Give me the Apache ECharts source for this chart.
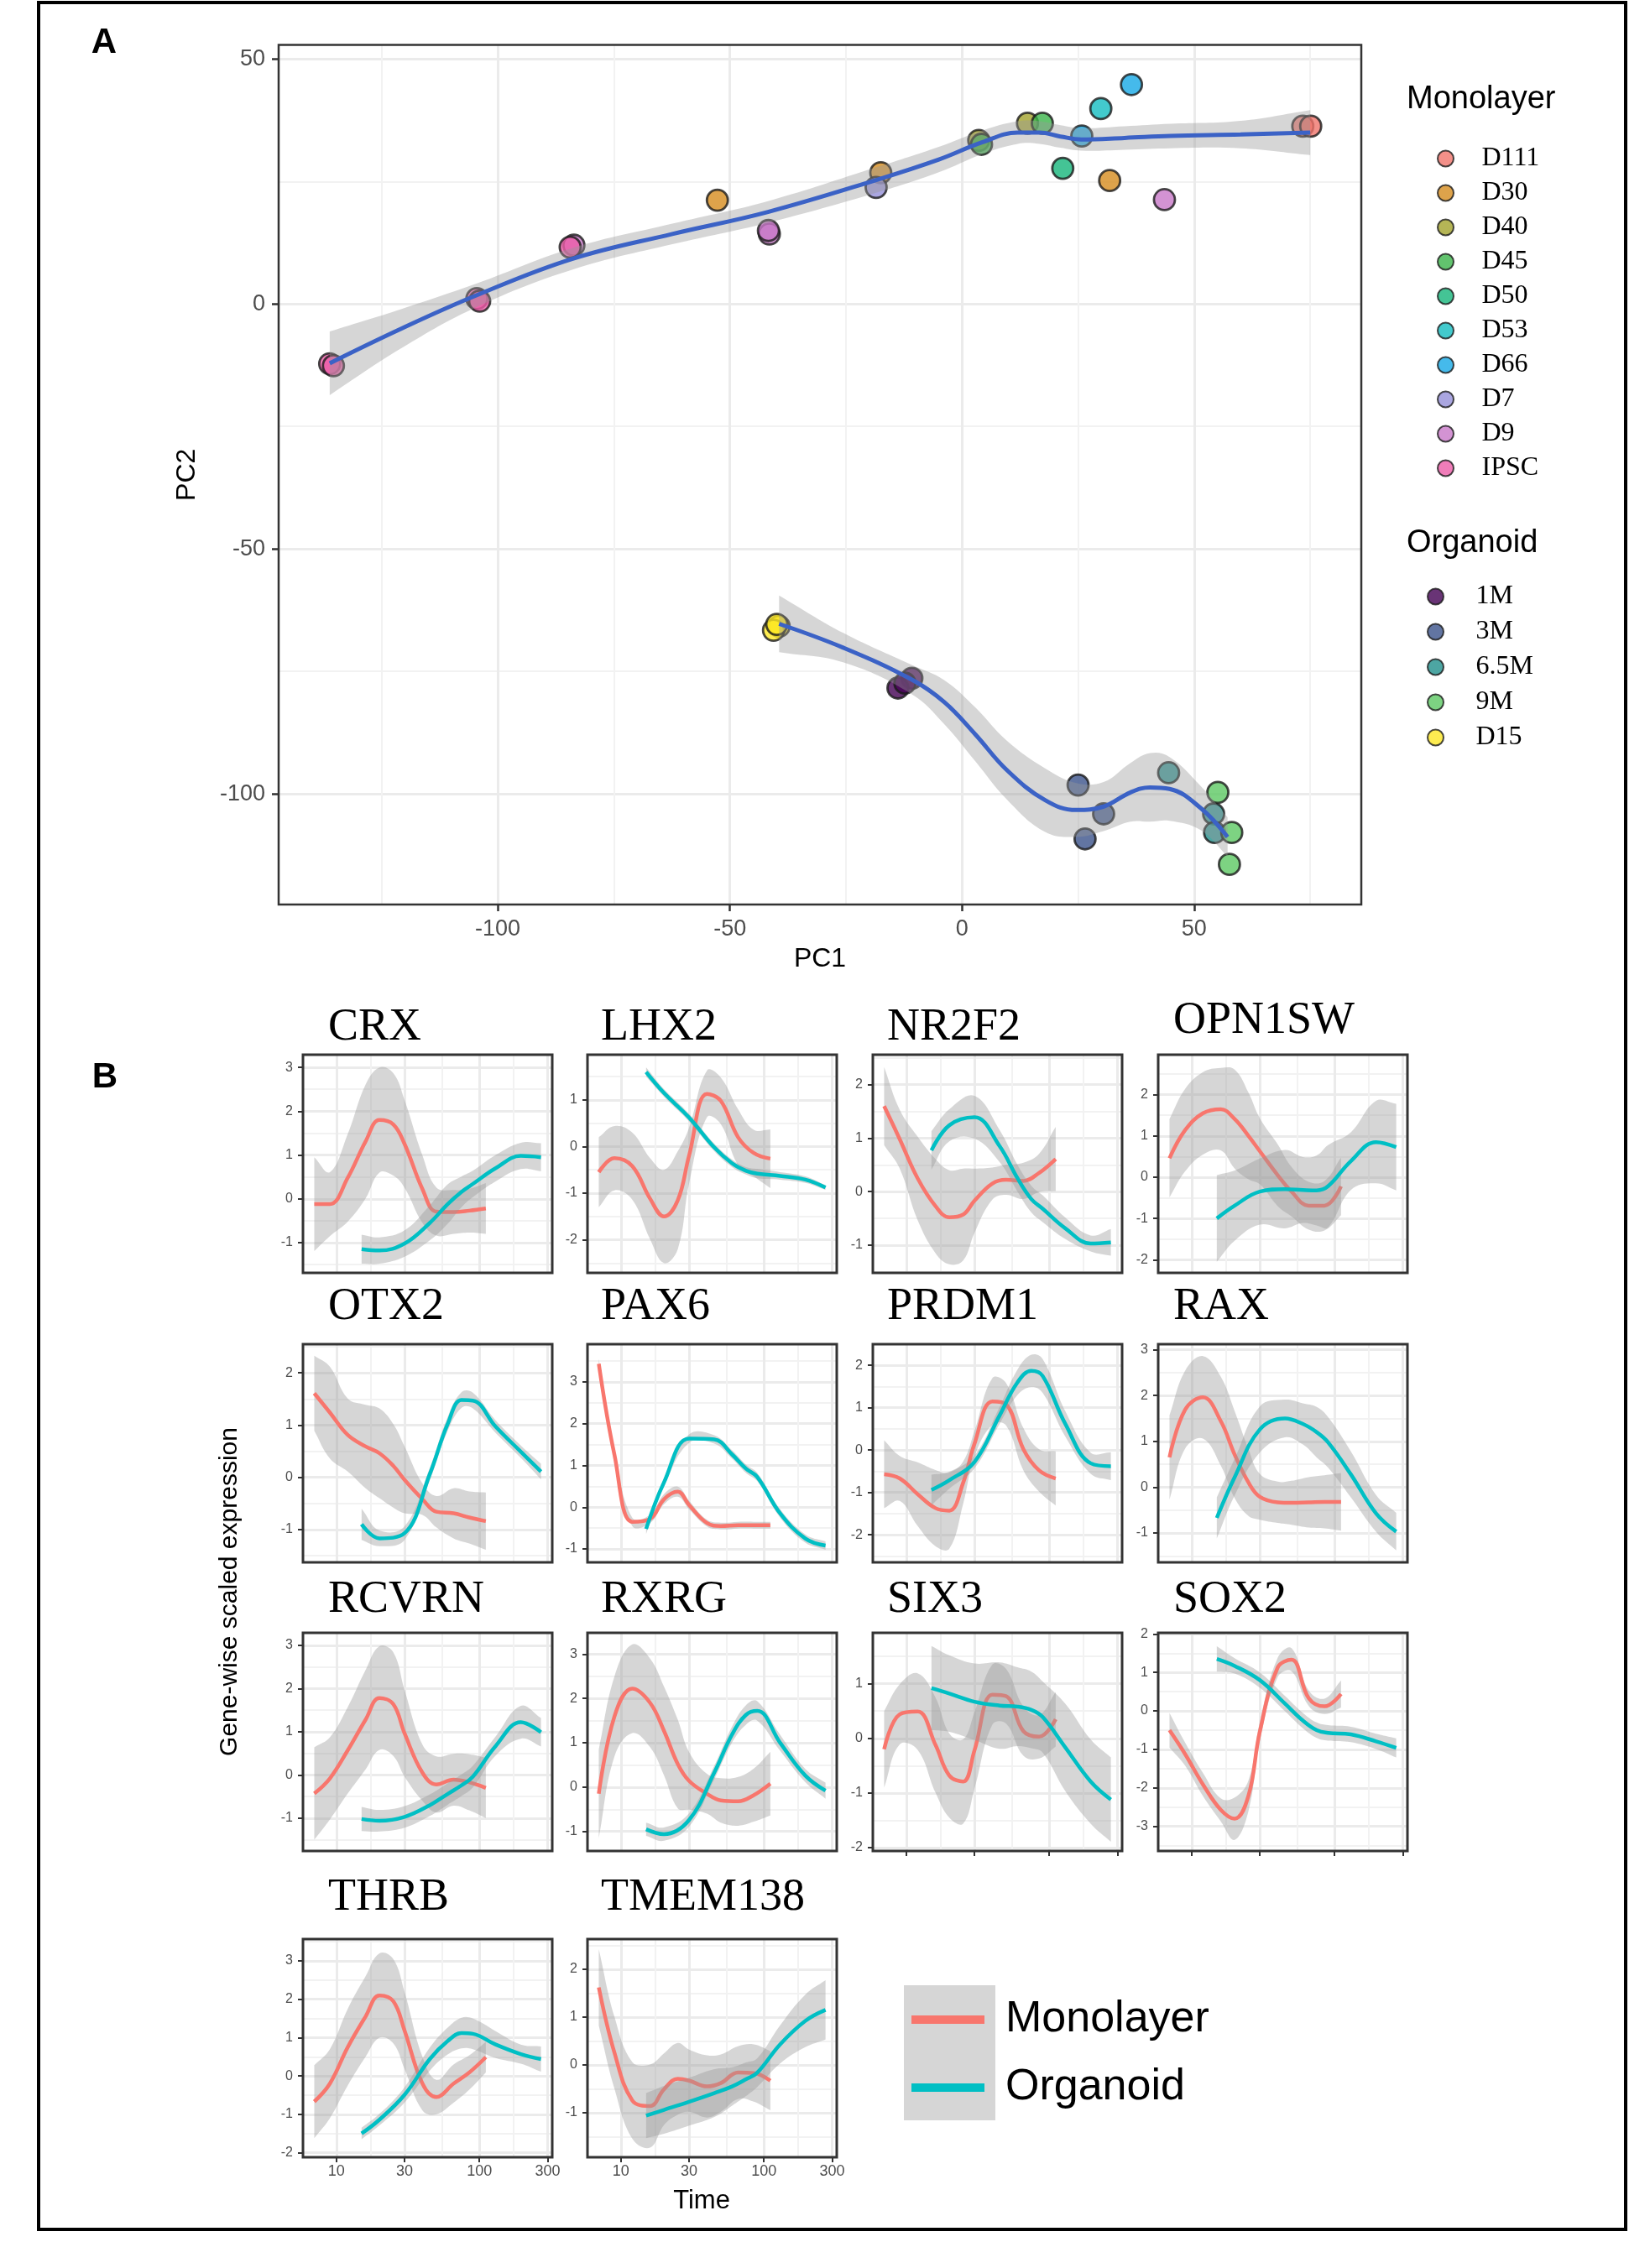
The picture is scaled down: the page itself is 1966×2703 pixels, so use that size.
<!DOCTYPE html>
<html>
<head>
<meta charset="utf-8">
<title>Monolayer vs organoid: PCA and gene-wise expression</title>
<script src="https://cdn.jsdelivr.net/npm/echarts@6.0.0/dist/echarts.min.js"></script>
<style>
  html, body { margin: 0; padding: 0; background: #fff; }
  #chart { width: 1966px; height: 2703px; }
</style>
</head>
<body>
<div id="chart"></div>
<script>
/* ---------- panel A : PCA ---------- */
var monoLevels = ['D111', 'D30', 'D40', 'D45', 'D50', 'D53', 'D66', 'D7', 'D9', 'IPSC'];
var monoColors = ['#F0746C', '#D68C1E', '#A3A32C', '#3BB44A', '#15B57A', '#14BDC0', '#16A9E6', '#9590D8', '#C878C8', '#EC5CA8'];
var orgLevels = ['1M', '3M', '6.5M', '9M', 'D15'];
var orgColors = ['#440154', '#3B528B', '#21908C', '#5DC863', '#FDE725'];

var monoStage = ['IPSC', 'IPSC', 'IPSC', 'IPSC', 'IPSC', 'D9', 'D30', 'D9', 'D9', 'D30', 'D7', 'D40',
                 'D45', 'D40', 'D45', 'D66', 'D53', 'D66', 'D50', 'D30', 'D9', 'D111', 'D111'];
var monoPC1 = [-136.2, -135.4, -104.5, -103.9, -84.4, -83.6, -52.7, -41.5, -41.7, -17.5, -18.5, 3.6,
               4.2, 14.1, 17.3, 25.8, 29.9, 36.5, 21.7, 31.8, 43.6, 73.4, 75.1];
var monoPC2 = [-12.2, -12.6, 1.1, 0.6, 11.6, 12.0, 21.2, 14.3, 15.0, 26.8, 23.8, 33.4,
               32.6, 36.9, 36.9, 34.3, 39.9, 44.8, 27.7, 25.2, 21.3, 36.3, 36.3];

var orgStage = ['D15', 'D15', 'D15', '1M', '1M', '1M', '3M', '3M', '3M', '6.5M', '6.5M', '6.5M', '9M', '9M', '9M'];
var orgPC1 = [-39.4, -40.6, -39.9, -10.8, -13.8, -12.3, 25.0, 30.5, 26.5, 44.5, 54.2, 54.4, 55.1, 58.1, 57.6];
var orgPC2 = [-65.8, -66.6, -65.4, -76.4, -78.4, -77.4, -98.2, -104.1, -109.2, -95.7, -104.1, -107.9, -99.7, -107.9, -114.4];

// loess trend and its standard band
var monoFitPC1 = [-136.2, -120.7, -104.5, -84.0, -62.4, -41.8, -18.2, -5.0, 4.3, 12.0, 16.7, 21.2, 25.7, 35.0, 44.9, 60.0, 75.0];
var monoFitPC2 = [-12.1, -5.0, 1.8, 9.2, 14.3, 18.8, 25.4, 29.5, 33.0, 35.0, 35.0, 34.2, 33.6, 33.9, 34.3, 34.6, 35.0];
var monoFitSE = [6.5, 4.0, 2.4, 2.2, 2.1, 2.2, 2.6, 2.6, 2.4, 2.3, 2.3, 2.3, 2.3, 2.4, 2.5, 2.8, 4.6];
var orgFitPC1 = [-39.4, -25.5, -10.8, -3.8, 2.9, 9.6, 17.9, 24.6, 30.5, 36.3, 40.5, 44.7, 51.4, 57.2];
var orgFitPC2 = [-65.3, -70.2, -76.7, -81.3, -87.9, -95.1, -101.3, -103.3, -102.6, -99.7, -98.7, -99.0, -102.9, -108.8];
var orgFitSE = [5.8, 3.0, 3.0, 4.5, 5.5, 6.0, 6.5, 5.5, 5.0, 6.0, 7.0, 6.5, 4.5, 4.0];

var pcTicks = [-100, -50, 0, 50];
var pcMinor = [-125, -75, -25, 25, 75];

/* ---------- panel B : gene-wise scaled expression ---------- */
var genes = ['CRX', 'LHX2', 'NR2F2', 'OPN1SW', 'OTX2', 'PAX6', 'PRDM1', 'RAX', 'RCVRN', 'RXRG', 'SIX3', 'SOX2', 'THRB', 'TMEM138'];
var monoDays = [7, 9, 12, 16, 20, 25, 30, 40, 50, 66, 85, 111];
var orgDays = [15, 20, 30, 45, 60, 75, 90, 130, 195, 270];
var timeBreaks = [10, 30, 100, 300];

// one row per gene, same order as genes
var monoFit = [
  [-0.12, -0.12, 0.48, 1.31, 1.80, 1.70, 1.25, 0.22, -0.29, -0.30, -0.27, -0.22],
  [-0.55, -0.25, -0.42, -1.12, -1.50, -1.15, -0.19, 1.13, 0.98, 0.20, -0.14, -0.26],
  [1.60, 0.98, 0.25, -0.27, -0.48, -0.43, -0.17, 0.15, 0.22, 0.20, 0.35, 0.61],
  [0.46, 1.14, 1.55, 1.65, 1.41, 1.00, 0.63, 0.05, -0.35, -0.69, -0.69, -0.22],
  [1.61, 1.24, 0.81, 0.59, 0.46, 0.22, -0.05, -0.42, -0.66, -0.69, -0.77, -0.84],
  [3.43, 1.26, -0.35, -0.28, 0.19, 0.37, 0.05, -0.38, -0.45, -0.43, -0.43, -0.43],
  [-0.57, -0.67, -1.04, -1.37, -1.43, -0.77, 0.15, 1.15, 1.08, 0.02, -0.48, -0.67],
  [0.65, 1.69, 1.96, 1.44, 0.71, 0.10, -0.21, -0.33, -0.34, -0.33, -0.32, -0.32],
  [-0.43, -0.08, 0.57, 1.28, 1.78, 1.64, 0.96, 0.05, -0.22, -0.11, -0.17, -0.30],
  [-0.15, 1.59, 2.22, 1.90, 1.27, 0.52, 0.14, -0.15, -0.30, -0.32, -0.18, 0.08],
  [-0.20, 0.44, 0.49, -0.12, -0.68, -0.79, -0.22, 0.80, 0.77, 0.13, 0.03, 0.35],
  [-0.50, -1.12, -1.91, -2.57, -2.80, -2.20, -0.54, 1.13, 1.33, 0.33, 0.12, 0.44],
  [-0.67, -0.20, 0.75, 1.55, 2.10, 1.95, 1.18, -0.20, -0.55, -0.20, 0.09, 0.49],
  [1.62, 0.26, -0.74, -0.86, -0.51, -0.29, -0.33, -0.45, -0.38, -0.16, -0.17, -0.33]
];
var monoSE = [
  [1.07, 0.73, 1.00, 1.30, 1.20, 1.17, 1.00, 0.77, 0.55, 0.50, 0.50, 0.58],
  [0.75, 0.69, 0.72, 0.87, 1.00, 1.05, 0.60, 0.50, 0.50, 0.60, 0.50, 0.63],
  [0.73, 0.55, 0.78, 0.88, 0.88, 0.86, 0.60, 0.30, 0.28, 0.34, 0.36, 0.60],
  [0.95, 1.00, 1.00, 1.00, 1.20, 1.05, 0.80, 0.75, 0.60, 0.58, 0.60, 0.70],
  [0.72, 0.88, 0.70, 0.80, 0.86, 0.80, 0.64, 0.30, 0.30, 0.48, 0.50, 0.55],
  [0.12, 0.10, 0.10, 0.10, 0.12, 0.12, 0.10, 0.08, 0.08, 0.08, 0.08, 0.08],
  [0.80, 0.53, 0.75, 0.90, 0.90, 0.50, 0.30, 0.55, 0.50, 0.50, 0.50, 0.64],
  [0.92, 0.85, 0.90, 0.97, 0.95, 0.73, 0.50, 0.45, 0.48, 0.55, 0.58, 0.63],
  [1.07, 0.95, 1.00, 1.15, 1.20, 1.20, 1.00, 0.65, 0.65, 0.60, 0.65, 0.70],
  [1.00, 0.90, 1.00, 1.00, 1.00, 1.00, 0.65, 0.45, 0.50, 0.55, 0.60, 0.72],
  [0.70, 0.55, 0.70, 0.87, 0.77, 0.77, 0.70, 0.55, 0.50, 0.45, 0.40, 0.50],
  [0.45, 0.30, 0.30, 0.30, 0.55, 0.40, 0.25, 0.25, 0.30, 0.20, 0.20, 0.35],
  [0.95, 0.90, 1.00, 1.05, 1.10, 1.10, 1.00, 0.70, 0.45, 0.50, 0.45, 0.40],
  [0.80, 0.75, 0.80, 0.87, 0.75, 0.75, 0.65, 0.65, 0.60, 0.55, 0.60, 0.62]
];
var orgFit = [
  [-1.15, -1.18, -1.02, -0.55, -0.12, 0.16, 0.34, 0.70, 0.98, 0.95],
  [1.60, 1.15, 0.62, -0.02, -0.36, -0.52, -0.58, -0.63, -0.71, -0.88],
  [0.77, 1.24, 1.39, 0.85, 0.25, -0.14, -0.32, -0.69, -0.97, -0.95],
  [-1.00, -0.69, -0.35, -0.29, -0.31, -0.32, -0.22, 0.39, 0.85, 0.73],
  [-0.90, -1.17, -1.07, 0.06, 1.02, 1.48, 1.47, 0.97, 0.49, 0.11],
  [-0.52, 0.59, 1.64, 1.62, 1.26, 0.92, 0.72, -0.15, -0.75, -0.92],
  [-0.94, -0.71, -0.28, 0.82, 1.60, 1.87, 1.75, 0.61, -0.31, -0.38],
  [-0.67, 0.22, 1.26, 1.50, 1.38, 1.20, 0.98, 0.28, -0.57, -0.97],
  [-1.02, -1.06, -0.97, -0.70, -0.44, -0.24, -0.04, 0.67, 1.22, 0.99],
  [-0.95, -1.06, -0.74, 0.33, 1.19, 1.63, 1.72, 1.00, 0.26, -0.08],
  [0.92, 0.82, 0.67, 0.60, 0.58, 0.52, 0.39, -0.17, -0.79, -1.12],
  [1.35, 1.17, 0.80, 0.19, -0.25, -0.50, -0.57, -0.61, -0.79, -0.96],
  [-1.50, -1.14, -0.49, 0.44, 0.91, 1.12, 1.10, 0.82, 0.57, 0.44],
  [-1.06, -0.94, -0.77, -0.59, -0.45, -0.30, -0.16, 0.43, 0.92, 1.15]
];
var orgSE = [
  [0.33, 0.30, 0.30, 0.40, 0.45, 0.35, 0.30, 0.30, 0.30, 0.32],
  [0.10, 0.08, 0.08, 0.08, 0.08, 0.08, 0.10, 0.08, 0.07, 0.05],
  [0.36, 0.30, 0.40, 0.30, 0.25, 0.25, 0.25, 0.20, 0.15, 0.25],
  [1.05, 0.85, 0.80, 0.95, 0.80, 0.85, 1.00, 0.70, 1.00, 1.05],
  [0.30, 0.15, 0.13, 0.12, 0.13, 0.15, 0.15, 0.12, 0.12, 0.15],
  [0.12, 0.10, 0.10, 0.10, 0.10, 0.10, 0.10, 0.10, 0.10, 0.10],
  [0.36, 0.20, 0.15, 0.20, 0.30, 0.38, 0.40, 0.30, 0.25, 0.33],
  [0.45, 0.40, 0.50, 0.41, 0.45, 0.55, 0.55, 0.50, 0.40, 0.41],
  [0.28, 0.25, 0.25, 0.25, 0.25, 0.25, 0.25, 0.22, 0.38, 0.33],
  [0.15, 0.15, 0.15, 0.15, 0.18, 0.22, 0.22, 0.18, 0.15, 0.18],
  [0.77, 0.70, 0.70, 0.79, 0.72, 0.70, 0.65, 0.80, 0.77, 0.77],
  [0.33, 0.20, 0.20, 0.20, 0.20, 0.20, 0.20, 0.20, 0.20, 0.25],
  [0.15, 0.15, 0.20, 0.30, 0.35, 0.40, 0.40, 0.35, 0.25, 0.33],
  [0.47, 0.50, 0.50, 0.50, 0.40, 0.35, 0.30, 0.40, 0.55, 0.62]
];
var exprMin = [-1.69, -2.71, -1.52, -2.32, -1.63, -1.32, -2.65, -1.64, -1.76, -1.44, -2.06, -3.64, -2.12, -1.93];
var exprMax = [3.29, 1.97, 2.56, 2.97, 2.55, 3.90, 2.50, 3.12, 3.29, 3.48, 1.93, 2.03, 3.57, 2.63];

/* ---------- styling / layout ---------- */
var SANS = '"Liberation Sans", Arial, sans-serif';
var SERIF = '"Liberation Serif", "Times New Roman", serif';
var BAND = 'rgba(153,153,153,0.4)';
var RED = '#F8766D', CYAN = '#00BFC4', BLUE = '#3B62C6';
var LOG_MIN = 0.766, LOG_MAX = 2.51;
var colLeft = [361, 700, 1040, 1380];
var rowTop = [1257, 1602, 1946, 2311];
var titleDx = [30, 16, 17, 18];
var titleY = [1225, 1558, 1907, 2262];

function log10(v) { return Math.log(v) / Math.LN10; }

function mainAxis(gi, min, max, ticks, o) {
  return {
    type: 'value', gridIndex: gi, min: min, max: max, position: o.position,
    name: o.name, nameLocation: 'middle', nameGap: o.nameGap, nameRotate: o.nameRotate,
    nameTextStyle: { fontFamily: SANS, fontSize: 32, color: '#000' },
    axisLine: { show: false, onZero: false },
    axisTick: { show: o.ticks !== false, customValues: ticks, length: o.tickLen || 6,
                lineStyle: { color: '#333', width: o.tickWidth || 2 } },
    axisLabel: { show: o.labels !== false, customValues: ticks, margin: o.margin,
                 fontFamily: SANS, fontSize: o.fontSize, color: '#4D4D4D', formatter: o.formatter },
    splitLine: { show: true, lineStyle: { color: '#EBEBEB', width: 3 } }
  };
}
function minorAxis(gi, min, max, ticks, position) {
  return {
    type: 'value', gridIndex: gi, min: min, max: max, position: position,
    axisLine: { show: false, onZero: false },
    axisTick: { show: false, customValues: ticks },
    axisLabel: { show: false },
    splitLine: { show: true, lineStyle: { color: '#F2F2F2', width: 2 } }
  };
}
function ribbon(ai, xs, fit, se, z) {
  var rows = xs.map(function (x, i) { return [x, fit[i] - se[i], fit[i] + se[i]]; });
  return {
    type: 'custom', name: 'band', xAxisIndex: ai, yAxisIndex: ai, z: z, silent: true, clip: true,
    data: rows, encode: { x: 0, y: [1, 2] },
    renderItem: function (params, api) {
      if (params.dataIndex !== 0) return null;
      var top = [], bottom = [];
      rows.forEach(function (d) {
        top.push(api.coord([d[0], d[2]]));
        bottom.unshift(api.coord([d[0], d[1]]));
      });
      // doubled corner points keep the ribbon ends straight
      var pts = [top[0]].concat(top, [top[top.length - 1], bottom[0]], bottom, [bottom[bottom.length - 1]]);
      return { type: 'polygon', shape: { points: pts, smooth: 0.4 }, style: { fill: BAND } };
    }
  };
}
function trend(ai, name, xs, ys, color, width, z) {
  return {
    type: 'line', name: name, xAxisIndex: ai, yAxisIndex: ai, z: z, silent: true,
    data: xs.map(function (x, i) { return [x, ys[i]]; }),
    smooth: 0.4, symbol: 'none', color: color,
    itemStyle: { color: color }, lineStyle: { color: color, width: width }
  };
}
function range(lo, hi, step, offset) {
  var out = [];
  for (var v = Math.ceil((lo - offset) / step) * step + offset; v <= hi + 1e-9; v += step) out.push(+v.toFixed(3));
  return out;
}
function text(x, y, str, font, align, rotation) {
  return { type: 'text', x: x, y: y, rotation: rotation || 0, silent: true,
    style: { text: str, font: font, fill: '#000', textAlign: align, textVerticalAlign: 'middle',
             align: align, verticalAlign: 'middle' } };
}

var grids = [], xAxes = [], yAxes = [], series = [];
var graphics = [
  { type: 'rect', shape: { x: 46, y: 3, width: 1891, height: 2654 }, style: { fill: 'none', stroke: '#000', lineWidth: 4 }, silent: true },
  { type: 'rect', shape: { x: 1077, y: 2366, width: 109, height: 161 }, style: { fill: '#D6D6D6' }, silent: true },
  text(124, 51, 'A', 'bold 42px ' + SANS, 'center'),
  text(125, 1284, 'B', 'bold 42px ' + SANS, 'center'),
  text(1676, 119, 'Monolayer', '38px ' + SANS, 'left'),
  text(1676, 648, 'Organoid', '38px ' + SANS, 'left'),
  text(274, 1897, 'Gene-wise scaled expression', '30px ' + SANS, 'center', Math.PI / 2),
  text(836, 2623, 'Time', '31px ' + SANS, 'center')
];

/* panel A */
grids.push({ left: 332, top: 53.5, width: 1290, height: 1024.5, show: true, z: 10,
             borderColor: '#333', borderWidth: 2.5, backgroundColor: 'transparent' });
xAxes.push(mainAxis(0, -147.2, 86, pcTicks, { name: 'PC1', nameGap: 49, tickLen: 8, tickWidth: 2.5, margin: 16, fontSize: 27 }));
xAxes.push(minorAxis(0, -147.2, 86, pcMinor, 'top'));
yAxes.push(mainAxis(0, -122.6, 52.9, pcTicks, { name: 'PC2', nameGap: 93, nameRotate: 90, tickLen: 8, tickWidth: 2.5, margin: 16, fontSize: 27 }));
yAxes.push(minorAxis(0, -122.6, 52.9, pcMinor, 'right'));

function addPoints(levels, colors, stage, pc1, pc2) {
  levels.forEach(function (lvl, k) {
    var pts = [];
    stage.forEach(function (s, i) { if (s === lvl) pts.push([pc1[i], pc2[i]]); });
    series.push({ type: 'scatter', name: lvl, xAxisIndex: 0, yAxisIndex: 0, data: pts, symbolSize: 25, z: 2,
                  itemStyle: { color: colors[k], borderColor: '#1A1A1A', borderWidth: 2.8 } });
  });
}
addPoints(monoLevels, monoColors, monoStage, monoPC1, monoPC2);
addPoints(orgLevels, orgColors, orgStage, orgPC1, orgPC2);
series.push(ribbon(0, monoFitPC1, monoFitPC2, monoFitSE, 3));
series.push(ribbon(0, orgFitPC1, orgFitPC2, orgFitSE, 3));
series.push(trend(0, 'Monolayer trend', monoFitPC1, monoFitPC2, BLUE, 5, 4));
series.push(trend(0, 'Organoid trend', orgFitPC1, orgFitPC2, BLUE, 5, 4));

/* panel B */
var breakLog = timeBreaks.map(log10);
var minorLog = [];
for (var b = 0; b < breakLog.length - 1; b++) minorLog.push((breakLog[b] + breakLog[b + 1]) / 2);
var monoX = monoDays.map(log10), orgX = orgDays.map(log10);

genes.forEach(function (g, i) {
  var r = Math.floor(i / 4), c = i % 4, gi = i + 1, ai = 2 * gi;
  var bottom = (g === 'SIX3' || g === 'SOX2' || g === 'THRB' || g === 'TMEM138');
  var labeled = (g === 'THRB' || g === 'TMEM138');
  grids.push({ left: colLeft[c], top: rowTop[r], width: 297, height: 260, show: true, z: 10,
               borderColor: '#333', borderWidth: 3, backgroundColor: 'transparent' });
  xAxes.push(mainAxis(gi, LOG_MIN, LOG_MAX, breakLog, {
    ticks: bottom, labels: labeled, fontSize: 18, margin: 8,
    formatter: function (v) { return String(Math.round(Math.pow(10, v))); }
  }));
  xAxes.push(minorAxis(gi, LOG_MIN, LOG_MAX, minorLog, 'top'));
  yAxes.push(mainAxis(gi, exprMin[i], exprMax[i], range(exprMin[i], exprMax[i], 1, 0), { fontSize: 16, margin: 12 }));
  yAxes.push(minorAxis(gi, exprMin[i], exprMax[i], range(exprMin[i], exprMax[i], 1, 0.5), 'right'));

  series.push(ribbon(ai, monoX, monoFit[i], monoSE[i], 2));
  series.push(trend(ai, 'Monolayer', monoX, monoFit[i], RED, 4.5, 3));
  series.push(ribbon(ai, orgX, orgFit[i], orgSE[i], 4));
  series.push(trend(ai, 'Organoid', orgX, orgFit[i], CYAN, 4.5, 5));

  graphics.push(text(colLeft[c] + titleDx[c], titleY[r] - (g === 'OPN1SW' ? 8 : 0), g, '54px ' + SERIF, 'left'));
});

var option = {
  animation: false,
  backgroundColor: '#fff',
  grid: grids,
  xAxis: xAxes,
  yAxis: yAxes,
  legend: [
    { data: monoLevels, orient: 'vertical', left: 1712, top: 173, padding: 0, icon: 'circle',
      itemWidth: 76, itemHeight: 19, itemGap: 9, selectedMode: false,
      textStyle: { fontFamily: SERIF, fontSize: 32, color: '#000' } },
    { data: orgLevels, orient: 'vertical', left: 1700, top: 695, padding: 0, icon: 'circle',
      itemWidth: 86, itemHeight: 19, itemGap: 10, selectedMode: false,
      textStyle: { fontFamily: SERIF, fontSize: 32, color: '#000' } },
    { data: ['Monolayer', 'Organoid'], orient: 'vertical', left: 1086, top: 2381, padding: 0, icon: 'rect',
      itemWidth: 87, itemHeight: 10, itemGap: 29, selectedMode: false, itemStyle: { borderWidth: 0 },
      textStyle: { fontFamily: SANS, fontSize: 52, color: '#000', padding: [0, 0, 0, 20] } }
  ],
  graphic: { elements: graphics },
  series: series
};

var chart = echarts.init(document.getElementById('chart'));
chart.setOption(option);
</script>
</body>
</html>
